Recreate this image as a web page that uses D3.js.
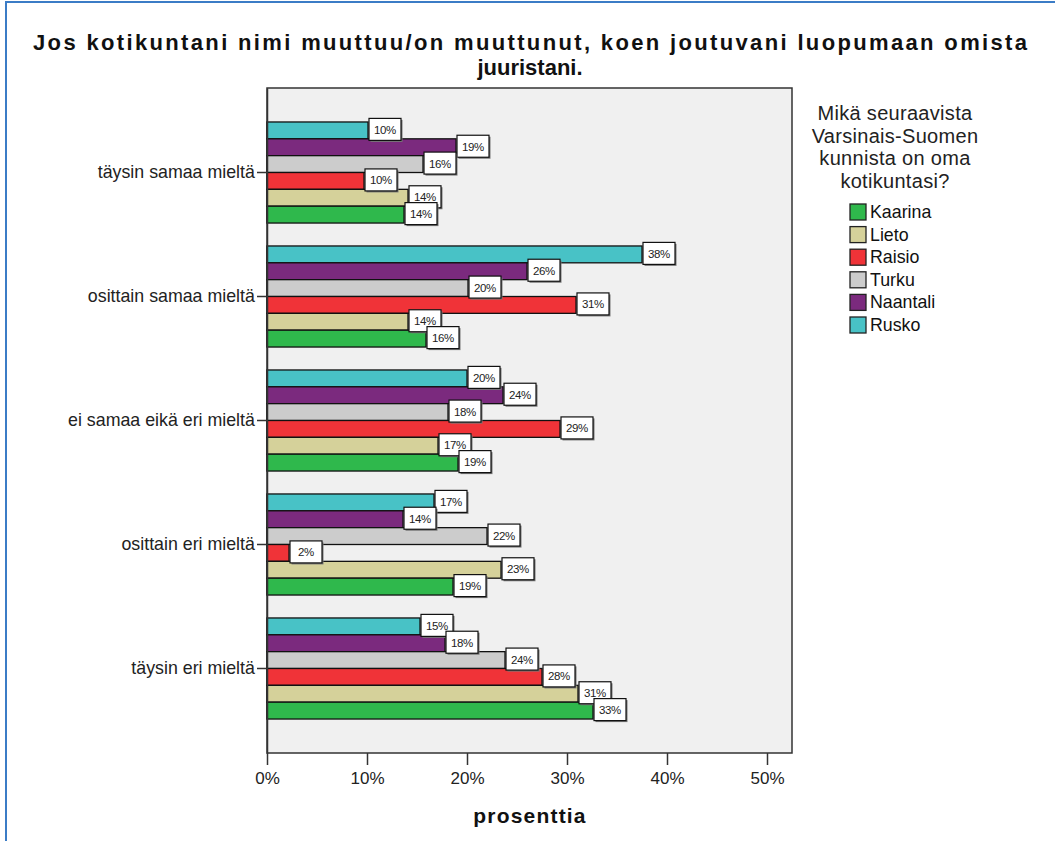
<!DOCTYPE html>
<html lang="fi">
<head>
<meta charset="UTF-8">
<title>Jos kotikuntani nimi muuttuu</title>
<script src="https://d3js.org/d3.v7.min.js"></script>
<style>
  body { margin: 0; background: #fff; }
  text { font-family: Arial, "Liberation Sans", sans-serif; }
</style>
</head>
<body>
<div id="chart"></div>
<script>
// answer categories (top to bottom)
const categories = ["täysin samaa mieltä", "osittain samaa mieltä", "ei samaa eikä eri mieltä", "osittain eri mieltä", "täysin eri mieltä"];
// municipalities, in bar order inside a group (top to bottom)
const towns = ["Rusko", "Naantali", "Turku", "Raisio", "Lieto", "Kaarina"];
// legend order
const legendOrder = ["Kaarina", "Lieto", "Raisio", "Turku", "Naantali", "Rusko"];
const colors = {
  Kaarina: "#2fb84c",
  Lieto: "#d5d19a",
  Raisio: "#f03338",
  Turku: "#cccccc",
  Naantali: "#7b2a7e",
  Rusko: "#48c2c6"
};
// percent per category, one array per town
const rusko    = [10.1, 37.5, 20.0, 16.7, 15.3];
const naantali = [18.9, 26.0, 23.6, 13.6, 17.8];
const turku    = [15.6, 20.1, 18.1, 22.0, 23.8];
const raisio   = [9.7, 30.9, 29.3, 2.2, 27.5];
const lieto    = [14.1, 14.1, 17.1, 23.4, 31.1];
const kaarina  = [13.7, 15.9, 19.1, 18.6, 32.6];
const values = { Rusko: rusko, Naantali: naantali, Turku: turku, Raisio: raisio, Lieto: lieto, Kaarina: kaarina };
const xTicks = [0, 10, 20, 30, 40, 50];

const W = 1055, H = 841;
const plot = { left: 267, right: 792, top: 88, bottom: 753 };

const svg = d3.select("#chart").append("svg")
  .attr("width", W).attr("height", H);

svg.append("rect").attr("width", W).attr("height", H).attr("fill", "#fff");
// outer blue frame
svg.append("path")
  .attr("d", `M6,${H} L6,2 L${W},2`)
  .attr("fill", "none").attr("stroke", "#3b7cc6").attr("stroke-width", 2);

// title
const title = svg.append("text")
  .attr("text-anchor", "middle")
  .attr("font-weight", "bold").attr("font-size", 22).attr("fill", "#111");
title.append("tspan").attr("x", 530).attr("y", 50)
  .attr("textLength", 994).attr("lengthAdjust", "spacing")
  .text("Jos kotikuntani nimi muuttuu/on muuttunut, koen joutuvani luopumaan omista");
title.append("tspan").attr("x", 530).attr("y", 75).text("juuristani.");

const x = d3.scaleLinear().domain([0, 52.5]).range([plot.left, plot.right]);
const y = d3.scaleBand().domain(categories)
  .range([plot.top, plot.bottom]).paddingInner(0.185).paddingOuter(0.274);
const yInner = d3.scaleBand().domain(towns).range([0, y.bandwidth()]);

// plot background
svg.append("rect")
  .attr("x", plot.left).attr("y", plot.top)
  .attr("width", plot.right - plot.left).attr("height", plot.bottom - plot.top)
  .attr("fill", "#f0f0f0").attr("stroke", "#333").attr("stroke-width", 1.5);

// bars
const groups = svg.append("g").selectAll("g")
  .data(categories)
  .join("g")
  .attr("transform", d => `translate(0,${y(d)})`);

groups.selectAll("rect")
  .data((c, i) => towns.map(t => ({ town: t, v: values[t][i] })))
  .join("rect")
  .attr("x", x(0))
  .attr("y", d => yInner(d.town))
  .attr("width", d => x(d.v) - x(0))
  .attr("height", yInner.bandwidth())
  .attr("fill", d => colors[d.town])
  .attr("stroke", "#111").attr("stroke-width", 1.3);

// value labels
groups.each(function (c, i) {
  const g = d3.select(this);
  towns.forEach(t => {
    const v = values[t][i];
    const bx = x(v) + 1;
    const cy = yInner(t) + yInner.bandwidth() / 2;
    const lab = g.append("g");
    lab.append("rect")
      .attr("x", bx + 1.5).attr("y", cy - 10.5)
      .attr("width", 32).attr("height", 22)
      .attr("fill", "#777");
    lab.append("rect")
      .attr("x", bx).attr("y", cy - 12)
      .attr("width", 32).attr("height", 22)
      .attr("fill", "#fff").attr("stroke", "#111").attr("stroke-width", 1.2);
    lab.append("text")
      .attr("x", bx + 16).attr("y", cy + 3.5)
      .attr("text-anchor", "middle").attr("font-size", 11.5)
      .attr("letter-spacing", -0.4).attr("fill", "#222")
      .text(Math.round(v) + "%");
  });
});

// x axis
const xAxis = svg.append("g")
  .attr("transform", `translate(0,${plot.bottom})`)
  .call(d3.axisBottom(x).tickValues(xTicks).tickSize(12).tickSizeOuter(0)
    .tickFormat(d => d + "%"));
xAxis.select(".domain").remove();
xAxis.selectAll("line").attr("stroke", "#333").attr("stroke-width", 1.5);
xAxis.selectAll("text").attr("font-size", 17).attr("fill", "#222").attr("dy", "0.95em");

svg.append("text")
  .attr("x", 530).attr("y", 823)
  .attr("text-anchor", "middle")
  .attr("font-weight", "bold").attr("font-size", 21)
  .attr("letter-spacing", 1.2).attr("fill", "#111")
  .text("prosenttia");

// y axis
const yAxis = svg.append("g")
  .attr("transform", `translate(${plot.left},0)`)
  .call(d3.axisLeft(y).tickSize(10).tickSizeOuter(0));
yAxis.select(".domain").attr("stroke", "#333").attr("stroke-width", 1.5);
yAxis.selectAll("line").attr("stroke", "#333").attr("stroke-width", 1.5);
yAxis.selectAll("text").attr("font-size", 17.8).attr("fill", "#222").attr("dx", "0.05em");

// legend
const legTitle = ["Mikä seuraavista", "Varsinais-Suomen", "kunnista on oma", "kotikuntasi?"];
svg.append("text")
  .attr("text-anchor", "middle").attr("font-size", 20).attr("fill", "#222")
  .attr("letter-spacing", 0.3)
  .selectAll("tspan")
  .data(legTitle)
  .join("tspan")
  .attr("x", 895)
  .attr("y", (d, i) => 120 + i * 22.5)
  .text(d => d);

const legend = svg.append("g").selectAll("g")
  .data(legendOrder)
  .join("g")
  .attr("transform", (d, i) => `translate(850,${204 + i * 22.6})`);
legend.append("rect")
  .attr("width", 16).attr("height", 16)
  .attr("fill", d => colors[d])
  .attr("stroke", "#222").attr("stroke-width", 1.3);
legend.append("text")
  .attr("x", 20).attr("y", 14)
  .attr("font-size", 17.8).attr("fill", "#111")
  .text(d => d);
</script>
</body>
</html>
